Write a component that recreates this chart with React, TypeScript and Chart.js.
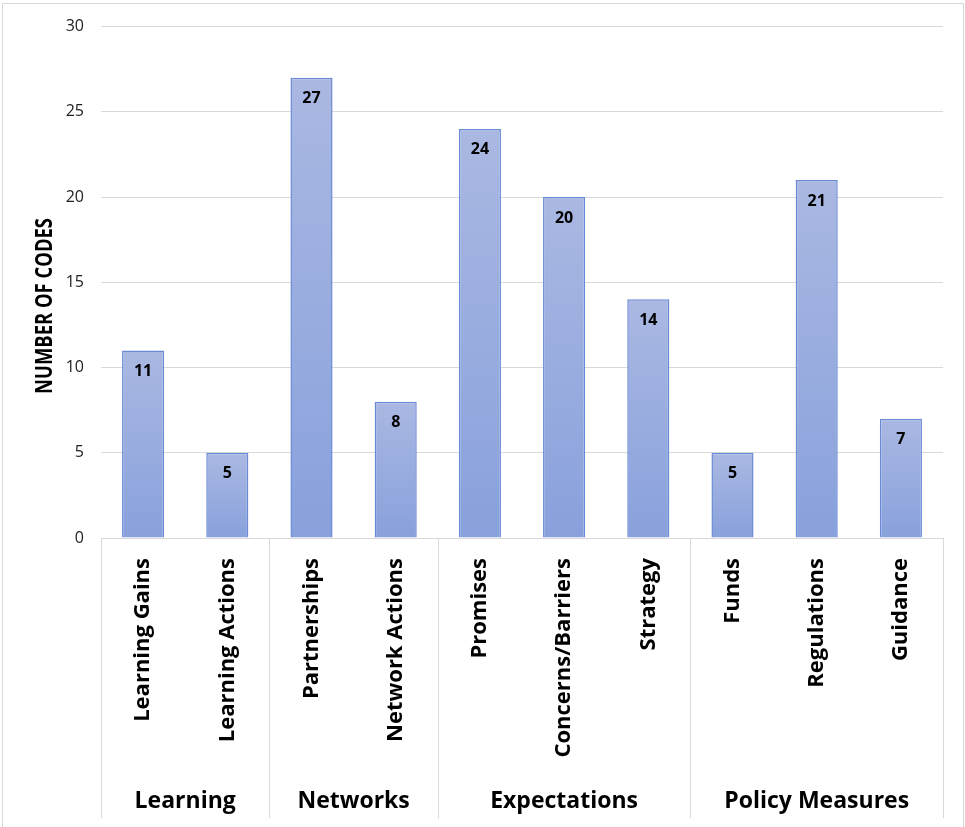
import React, { useEffect, useRef } from "react";
import { Chart, registerables } from "chart.js";

Chart.register(...registerables);

const categories = [
  "Learning Gains",
  "Learning Actions",
  "Partnerships",
  "Network Actions",
  "Promises",
  "Concerns/Barriers",
  "Strategy",
  "Funds",
  "Regulations",
  "Guidance",
];
const values = [11, 5, 27, 8, 24, 20, 14, 5, 21, 7];
const groupNames = ["Learning", "Networks", "Expectations", "Policy Measures"];
const groupSizes = [2, 2, 3, 3];
const yMax = 30;
const yStep = 5;
const yTitle = "NUMBER OF CODES";

const FONT = "'Open Sans', Lato, sans-serif";
const GRID = "#d9d9d9";

const decorPlugin = {
  id: "decor",
  beforeDraw(chart: any) {
    const ctx = chart.ctx;
    ctx.save();
    ctx.strokeStyle = GRID;
    ctx.lineWidth = 1;
    ctx.strokeRect(2.5, 3.5, chart.width - 4, chart.height - 2);
    ctx.restore();
  },
  afterDraw(chart: any) {
    const ctx = chart.ctx;
    const x = chart.scales.x;
    const area = chart.chartArea;
    const half = (x.getPixelForValue(1) - x.getPixelForValue(0)) / 2;
    ctx.save();
    ctx.strokeStyle = GRID;
    ctx.lineWidth = 1;
    let idx = 0;
    const bounds: number[] = [0];
    groupSizes.forEach((s) => {
      idx += s;
      bounds.push(idx);
    });
    bounds.forEach((b) => {
      const px = Math.round(x.getPixelForValue(b) - half) + 0.5;
      ctx.beginPath();
      ctx.moveTo(px, area.bottom);
      ctx.lineTo(px, 818);
      ctx.stroke();
    });
    ctx.fillStyle = "#000";
    ctx.font = `bold 23px ${FONT}`;
    ctx.textAlign = "center";
    ctx.textBaseline = "middle";
    for (let g = 0; g < groupNames.length; g++) {
      const a = x.getPixelForValue(bounds[g]) - half;
      const b = x.getPixelForValue(bounds[g + 1]) - half;
      ctx.fillText(groupNames[g], (a + b) / 2, 801);
    }
    // y-axis title (condensed to match reference proportions)
    ctx.save();
    ctx.translate(44, 306);
    ctx.rotate(-Math.PI / 2);
    ctx.font = `bold 24px ${FONT}`;
    const w = ctx.measureText(yTitle).width;
    ctx.scale(176 / w, 1);
    ctx.fillText(yTitle, 0, 1);
    ctx.restore();
    const meta = chart.getDatasetMeta(0);
    ctx.font = `bold 16px ${FONT}`;
    meta.data.forEach((el: any, i: number) => {
      ctx.fillText(String(values[i]), el.x, el.y + 21);
    });
    ctx.restore();
  },
};

export default function App() {
  const ref = useRef<HTMLCanvasElement>(null);
  useEffect(() => {
    document.body.style.margin = "0";
    const chart = new Chart(ref.current!, {
      type: "bar",
      data: {
        labels: categories,
        datasets: [
          {
            data: values,
            backgroundColor: (c: any) => {
              const chartObj = c.chart;
              const area = chartObj.chartArea;
              if (!area || c.type !== "data") return "#99ade0";
              const y = chartObj.scales.y;
              const top = y.getPixelForValue(c.raw);
              const bottom = y.getPixelForValue(0);
              const g = chartObj.ctx.createLinearGradient(0, top, 0, bottom);
              g.addColorStop(0, "#aab8e2");
              g.addColorStop(1, "#88a1dc");
              return g;
            },
            borderColor: "#6a8ad6",
            borderWidth: 1.5,
            barPercentage: 0.5,
            categoryPercentage: 1,
          },
        ],
      },
      options: {
        responsive: false,
        animation: false,
        layout: { padding: { top: 24, right: 22, left: 0, bottom: 0 } },
        plugins: { legend: { display: false }, tooltip: { enabled: false } },
        scales: {
          x: {
            grid: { display: false },
            border: { display: false },
            ticks: {
              autoSkip: false,
              minRotation: 90,
              maxRotation: 90,
              padding: 12,
              color: "#000",
              font: { family: FONT, size: 22, weight: "bold" },
            },
            afterFit: (s: any) => {
              s.height = 289;
            },
          },
          y: {
            min: 0,
            max: yMax,
            ticks: {
              stepSize: yStep,
              padding: 17,
              color: "#222",
              font: { family: FONT, size: 16 },
            },
            grid: { color: GRID, drawTicks: false, lineWidth: 1 },
            border: { display: false },
            afterFit: (s: any) => {
              s.width = 101;
            },
          },
        },
      },
      plugins: [decorPlugin],
    });
    return () => chart.destroy();
  }, []);
  return (
    <canvas ref={ref} width={965} height={827} style={{ display: "block" }} />
  );
}
